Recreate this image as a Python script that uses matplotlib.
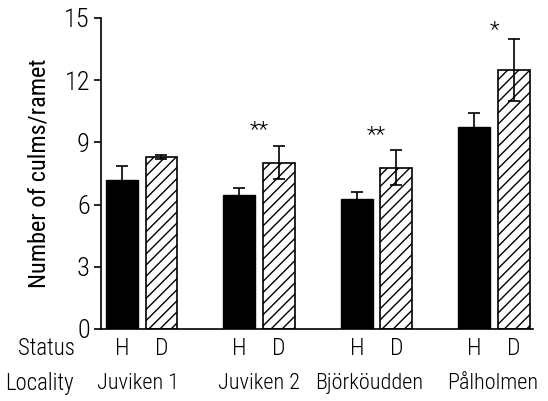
import matplotlib
matplotlib.use("Agg")
import matplotlib.pyplot as plt
import numpy as np

plt.rcParams['font.family'] = ['Roboto Condensed', 'DejaVu Sans']
plt.rcParams['font.weight'] = 'light'
plt.rcParams['hatch.linewidth'] = 1.0

localities = ['Juviken 1', 'Juviken 2', 'Björköudden', 'Pålholmen']
status = ['H', 'D']
healthy = [7.2, 6.45, 6.25, 9.75]
healthy_err = [0.65, 0.37, 0.38, 0.67]
diseased = [8.3, 8.02, 7.77, 12.49]
diseased_err = [0.1, 0.8, 0.85, 1.49]
signif = ['', '**', '**', '*']
signif_y = [0, 9.55, 9.35, 14.4]

fig = plt.figure(figsize=(5.48, 4.01), dpi=100)
ax = fig.add_axes([0.1843, 0.1796, 0.788, 0.7756])

x = np.arange(len(localities))
w = 0.272
off = 0.168
ax.bar(x - off, healthy, w, color='black', edgecolor='black', linewidth=1)
ax.bar(x + off, diseased, w, color='white', edgecolor='black', linewidth=1.2, hatch='///')
ax.errorbar(x - off, healthy, yerr=healthy_err, fmt='none', ecolor='black',
            elinewidth=1.2, capsize=4.5, capthick=1.2)
ax.errorbar(x + off, diseased, yerr=diseased_err, fmt='none', ecolor='black',
            elinewidth=1.2, capsize=4.5, capthick=1.2)

for xi, s, sy in zip(x, signif, signif_y):
    if s:
        ax.text(xi, sy, s, ha='center', va='center', fontsize=16)

ax.set_xlim(-0.347, 3.33)
ax.set_ylim(0, 15)
ax.set_yticks([0, 3, 6, 9, 12, 15])
ax.tick_params(axis='y', labelsize=19, length=5, width=1.2, direction='out', pad=3)
ax.set_xticks([])
ax.spines['top'].set_visible(False)
ax.spines['right'].set_visible(False)
ax.spines['left'].set_linewidth(1.2)
ax.spines['bottom'].set_linewidth(1.2)
ax.set_ylabel('Number of culms/ramet', fontsize=17.5, labelpad=10)

# locality names sit slightly off the group centres in the original
name_shift = [-0.03, 0.0, -0.06, -0.01]

trans = ax.get_xaxis_transform()
ax.text(-0.06, -0.064, 'Status', transform=ax.transAxes, ha='right', va='center', fontsize=16.5)
ax.text(-0.062, -0.174, 'Locality', transform=ax.transAxes, ha='right', va='center', fontsize=16.5)
for xi, name, sh in zip(x, localities, name_shift):
    ax.text(xi - off, -0.064, status[0], transform=trans, ha='center', va='center', fontsize=17)
    ax.text(xi + off, -0.064, status[1], transform=trans, ha='center', va='center', fontsize=17)
    ax.text(xi + sh, -0.174, name, transform=trans, ha='center', va='center', fontsize=16)

fig.savefig('out.png', dpi=100)
